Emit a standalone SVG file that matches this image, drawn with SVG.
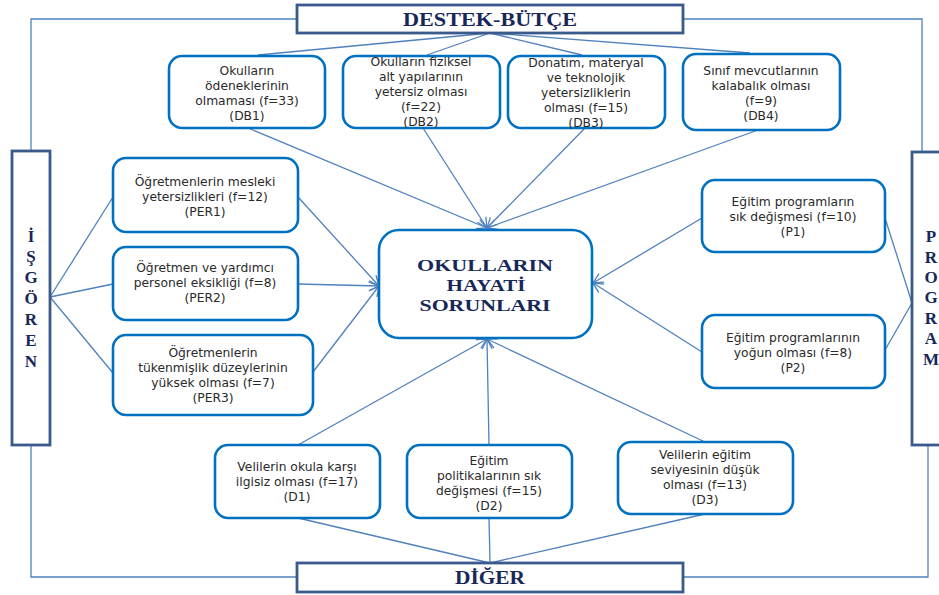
<svg xmlns="http://www.w3.org/2000/svg" width="939" height="595" viewBox="0 0 939 595">
<defs>
<style>
.node{fill:#fff;stroke:#0070C0;stroke-width:2.6}
.cat{fill:#fff;stroke:#3A5A8C;stroke-width:2.8}
.c{fill:none;stroke:#4F81BD;stroke-width:1.3}
.t{font-family:"DejaVu Sans","Open Sans",sans-serif;font-size:12.3px;fill:#2a2a2a;text-anchor:middle}
.h{font-family:"Liberation Serif","Times New Roman",serif;font-weight:bold;fill:#17275A;text-anchor:middle}
</style>
<marker id="arr" viewBox="0 0 12 12" refX="11" refY="6" markerWidth="12" markerHeight="12" markerUnits="userSpaceOnUse" orient="auto">
<path d="M1,1 L11,6 L1,11" fill="none" stroke="#4F81BD" stroke-width="1.3"/>
</marker>
</defs>
<rect width="939" height="595" fill="#fff"/>

<g id="connectors">
<polyline class="c" points="296,19 31,19 31,150"/>
<polyline class="c" points="31,445 31,577 296,577"/>
<polyline class="c" points="683,19 922,19 922,152"/>
<polyline class="c" points="928,445 928,577 683,577"/>
<line class="c" x1="490" y1="33" x2="258" y2="55"/>
<line class="c" x1="490" y1="33" x2="427" y2="55"/>
<line class="c" x1="490" y1="33" x2="582" y2="55"/>
<line class="c" x1="490" y1="33" x2="750" y2="53"/>
<line class="c" x1="248" y1="128" x2="487" y2="228" marker-end="url(#arr)"/>
<line class="c" x1="423" y1="128" x2="487" y2="228" marker-end="url(#arr)"/>
<line class="c" x1="585" y1="128" x2="487" y2="228" marker-end="url(#arr)"/>
<line class="c" x1="758" y1="130" x2="487" y2="228" marker-end="url(#arr)"/>
<line class="c" x1="50" y1="297" x2="113" y2="197"/>
<line class="c" x1="50" y1="297" x2="113" y2="284"/>
<line class="c" x1="50" y1="297" x2="113" y2="373"/>
<line class="c" x1="298" y1="197" x2="379" y2="286" marker-end="url(#arr)"/>
<line class="c" x1="298" y1="284" x2="379" y2="286" marker-end="url(#arr)"/>
<line class="c" x1="313" y1="372" x2="379" y2="286" marker-end="url(#arr)"/>
<line class="c" x1="702" y1="218" x2="593" y2="283" marker-end="url(#arr)"/>
<line class="c" x1="702" y1="352" x2="593" y2="283" marker-end="url(#arr)"/>
<line class="c" x1="885" y1="218" x2="912" y2="303"/>
<line class="c" x1="885" y1="350" x2="912" y2="303"/>
<line class="c" x1="298" y1="445" x2="487" y2="339" marker-end="url(#arr)"/>
<line class="c" x1="489" y1="445" x2="487" y2="339" marker-end="url(#arr)"/>
<line class="c" x1="705" y1="442" x2="487" y2="339" marker-end="url(#arr)"/>
<line class="c" x1="298" y1="518" x2="490" y2="563"/>
<line class="c" x1="489" y1="518" x2="490" y2="563"/>
<line class="c" x1="705" y1="514" x2="490" y2="563"/>
</g>

<g id="destek">
<rect class="cat" x="297" y="5" width="386" height="28"/>
<text class="h" x="490" y="26" font-size="18" textLength="174" lengthAdjust="spacingAndGlyphs">DESTEK-BÜTÇE</text>
</g>
<g id="diger">
<rect class="cat" x="297" y="563" width="386" height="29"/>
<text class="h" x="490" y="584" font-size="18" textLength="70" lengthAdjust="spacingAndGlyphs">DİĞER</text>
</g>
<g id="isgoren">
<rect class="cat" x="12" y="151" width="38" height="294"/>
<g class="h" font-size="17">
<text x="31" y="242">İ</text><text x="31" y="262">Ş</text><text x="31" y="283">G</text><text x="31" y="304">Ö</text><text x="31" y="325">R</text><text x="31" y="346">E</text><text x="31" y="367">N</text>
</g>
</g>
<g id="program">
<rect class="cat" x="912" y="152" width="40" height="293"/>
<g class="h" font-size="17">
<text x="931" y="242">P</text><text x="931" y="263">R</text><text x="931" y="283">O</text><text x="931" y="303">G</text><text x="931" y="324">R</text><text x="931" y="344">A</text><text x="931" y="365">M</text>
</g>
</g>

<g id="center">
<rect class="node" x="379" y="230" width="213" height="108" rx="20"/>
<text class="h" x="485" y="271" font-size="17" textLength="136" lengthAdjust="spacingAndGlyphs">OKULLARIN</text>
<text class="h" x="486" y="291" font-size="17" textLength="79" lengthAdjust="spacingAndGlyphs">HAYATİ</text>
<text class="h" x="485" y="311" font-size="17" textLength="131" lengthAdjust="spacingAndGlyphs">SORUNLARI</text>
</g>

<g id="DB1">
<rect class="node" x="169" y="56" width="156" height="72" rx="13"/>
<text class="t" x="247" y="75">Okulların</text>
<text class="t" x="247" y="90">ödeneklerinin</text>
<text class="t" x="247" y="105">olmaması (f=33)</text>
<text class="t" x="247" y="120">(DB1)</text>
</g>
<g id="DB2">
<rect class="node" x="343" y="56" width="157" height="72" rx="13"/>
<text class="t" x="421" y="66">Okulların fiziksel</text>
<text class="t" x="421" y="81">alt yapılarının</text>
<text class="t" x="421" y="96">yetersiz olması</text>
<text class="t" x="421" y="111">(f=22)</text>
<text class="t" x="421" y="126">(DB2)</text>
</g>
<g id="DB3">
<rect class="node" x="508" y="56" width="157" height="72" rx="13"/>
<text class="t" x="586" y="67">Donatım, materyal</text>
<text class="t" x="586" y="82">ve teknolojik</text>
<text class="t" x="586" y="97">yetersizliklerin</text>
<text class="t" x="586" y="112">olması (f=15)</text>
<text class="t" x="586" y="127">(DB3)</text>
</g>
<g id="DB4">
<rect class="node" x="683" y="54" width="157" height="76" rx="13"/>
<text class="t" x="761" y="75">Sınıf mevcutlarının</text>
<text class="t" x="761" y="90">kalabalık olması</text>
<text class="t" x="761" y="105">(f=9)</text>
<text class="t" x="761" y="120">(DB4)</text>
</g>

<g id="PER1">
<rect class="node" x="113" y="158" width="185" height="74" rx="13"/>
<text class="t" x="205" y="186">Öğretmenlerin mesleki</text>
<text class="t" x="205" y="201">yetersizlikleri (f=12)</text>
<text class="t" x="205" y="216">(PER1)</text>
</g>
<g id="PER2">
<rect class="node" x="113" y="247" width="185" height="73" rx="13"/>
<text class="t" x="205" y="272">Öğretmen ve yardımcı</text>
<text class="t" x="205" y="287">personel eksikliği (f=8)</text>
<text class="t" x="205" y="302">(PER2)</text>
</g>
<g id="PER3">
<rect class="node" x="113" y="335" width="200" height="80" rx="13"/>
<text class="t" x="213" y="357">Öğretmenlerin</text>
<text class="t" x="213" y="372">tükenmişlik düzeylerinin</text>
<text class="t" x="213" y="387">yüksek olması (f=7)</text>
<text class="t" x="213" y="402">(PER3)</text>
</g>

<g id="P1">
<rect class="node" x="702" y="180" width="183" height="72" rx="13"/>
<text class="t" x="793" y="206">Eğitim programların</text>
<text class="t" x="793" y="221">sık değişmesi (f=10)</text>
<text class="t" x="793" y="236">(P1)</text>
</g>
<g id="P2">
<rect class="node" x="702" y="315" width="183" height="73" rx="13"/>
<text class="t" x="793" y="342">Eğitim programlarının</text>
<text class="t" x="793" y="357">yoğun olması (f=8)</text>
<text class="t" x="793" y="372">(P2)</text>
</g>

<g id="D1">
<rect class="node" x="215" y="445" width="165" height="73" rx="13"/>
<text class="t" x="297" y="471">Velilerin okula karşı</text>
<text class="t" x="297" y="486">ilgisiz olması (f=17)</text>
<text class="t" x="297" y="501">(D1)</text>
</g>
<g id="D2">
<rect class="node" x="407" y="445" width="165" height="73" rx="13"/>
<text class="t" x="489" y="465">Eğitim</text>
<text class="t" x="489" y="480">politikalarının sık</text>
<text class="t" x="489" y="495">değişmesi (f=15)</text>
<text class="t" x="489" y="510">(D2)</text>
</g>
<g id="D3">
<rect class="node" x="618" y="442" width="175" height="72" rx="13"/>
<text class="t" x="705" y="459">Velilerin eğitim</text>
<text class="t" x="705" y="474">seviyesinin düşük</text>
<text class="t" x="705" y="489">olması (f=13)</text>
<text class="t" x="705" y="504">(D3)</text>
</g>
</svg>
